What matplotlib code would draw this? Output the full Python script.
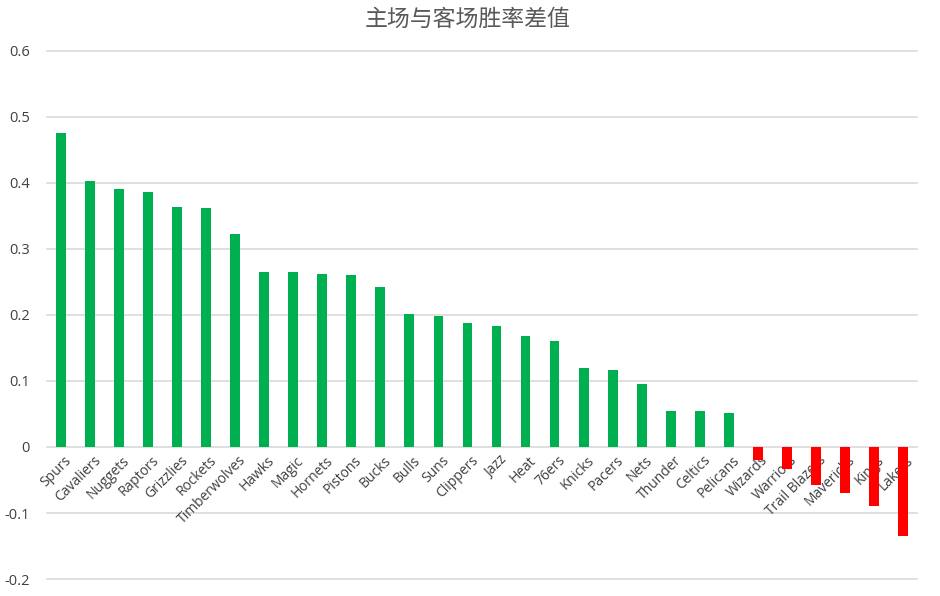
import matplotlib
matplotlib.use("Agg")
import matplotlib.pyplot as plt
import matplotlib.transforms as mtransforms

plt.rcParams['font.family'] = ['Open Sans', 'Noto Sans CJK SC', 'DejaVu Sans']

teams = ["Spurs", "Cavaliers", "Nuggets", "Raptors", "Grizzlies", "Rockets", "Timberwolves",
         "Hawks", "Magic", "Hornets", "Pistons", "Bucks", "Bulls", "Suns", "Clippers", "Jazz",
         "Heat", "76ers", "Knicks", "Pacers", "Nets", "Thunder", "Celtics", "Pelicans",
         "Wizards", "Warriors", "Trail Blazers", "Mavericks", "Kings", "Lakers"]
diff = [0.476, 0.403, 0.391, 0.387, 0.364, 0.362, 0.323,
        0.265, 0.265, 0.262, 0.260, 0.243, 0.202, 0.199, 0.188, 0.183,
        0.168, 0.161, 0.119, 0.117, 0.095, 0.054, 0.054, 0.051,
        -0.019, -0.033, -0.057, -0.070, -0.089, -0.135]
yticks = [-0.2, -0.1, 0, 0.1, 0.2, 0.3, 0.4, 0.5, 0.6]
ytick_labels = ["-0.2", "-0.1", "0", "0.1", "0.2", "0.3", "0.4", "0.5", "0.6"]
title = "主场与客场胜率差值"

fig = plt.figure(figsize=(9.4, 5.96), dpi=100)
ax = fig.add_axes([0.0495, 0.0285, 0.9265, 0.886])

colors = ['#00B050' if v >= 0 else '#FF0000' for v in diff]
x = list(range(len(teams)))
ax.bar(x, diff, width=0.34, color=colors, zorder=3)

ax.set_xlim(-0.5, len(teams) - 0.5)
ax.set_ylim(-0.2, 0.6)
ax.set_yticks(yticks)
ax.set_yticklabels(ytick_labels, fontsize=10.5, color='#404040')
ax.set_xticks([])
ax.tick_params(axis='y', length=0, pad=12)
ax.grid(axis='y', color='#D9D9D9', linewidth=1.2, zorder=0)
for gl in ax.get_ygridlines():
    gl.set_clip_on(False)
for s in ax.spines.values():
    s.set_visible(False)

offset = mtransforms.ScaledTranslation(3 / 100, -6 / 100, fig.dpi_scale_trans)
for i, t in enumerate(teams):
    ax.text(i, 0, t, rotation=45, rotation_mode='anchor', ha='right', va='top',
            fontsize=10, color='#404040', transform=ax.transData + offset, zorder=2)

fig.text(0.497, 0.968, title, ha='center', va='center', fontsize=16.5,
         color='#595959', family=['Noto Sans CJK SC', 'DejaVu Sans'])

fig.savefig("out.png", dpi=100, facecolor='white')
